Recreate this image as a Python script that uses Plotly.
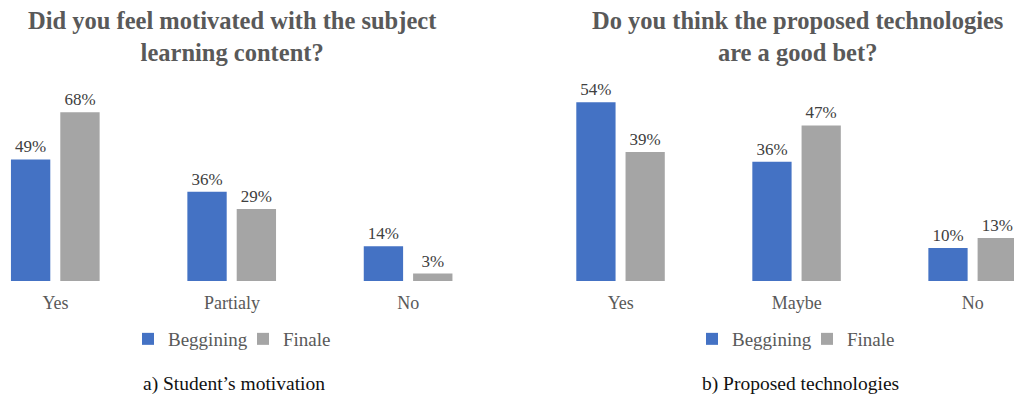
import plotly.graph_objects as go

# ---- data ----
cats_a = ["Yes", "Partialy", "No"]
begin_a = [49, 36, 14]
final_a = [68, 29, 3]

cats_b = ["Yes", "Maybe", "No"]
begin_b = [54, 36, 10]
final_b = [39, 47, 13]

series_names = ["Beggining", "Finale"]
titles = ["Did you feel motivated with the subject<br>learning content?",
          "Do you think the proposed technologies<br>are a good bet?"]
captions = ["a) Student’s motivation", "b) Proposed technologies"]

BLUE = "#4472C4"
GRAY = "#A5A5A5"
TXT = "#595959"
FONT = "Liberation Serif, Times New Roman, serif"

W, H = 1014, 396
BAR_W = 0.223
OFF_B = -0.2525
OFF_F = 0.0272

fig = go.Figure()

def add_pair(cats, b, f, xa, ya, leg):
    for vals, name, col, off in [(b, series_names[0], BLUE, OFF_B),
                                 (f, series_names[1], GRAY, OFF_F)]:
        fig.add_trace(go.Bar(x=cats, y=vals, name=name, marker_color=col,
                             marker_line_width=0,
                             width=BAR_W, offset=off, xaxis=xa, yaxis=ya, legend=leg,
                             text=[f"{v}%" for v in vals], textposition="outside",
                             textfont=dict(family=FONT, size=17, color="#404040"),
                             cliponaxis=False))

add_pair(cats_a, begin_a, final_a, "x", "y", "legend")
add_pair(cats_b, begin_b, final_b, "x2", "y2", "legend2")

y0 = (H - 281) / H
y1 = (H - 70) / H

axis_x = dict(showgrid=False, zeroline=False, showline=False, ticks="outside",
              ticklen=5, tickcolor="rgba(0,0,0,0)",
              tickfont=dict(family=FONT, size=18, color=TXT), fixedrange=True)
axis_y = dict(showgrid=False, zeroline=False, showline=False, showticklabels=False,
              fixedrange=True)

leg_common = dict(orientation="h", xanchor="center", y=(H - 339) / H, yanchor="middle",
                  font=dict(family=FONT, size=19, color=TXT), bgcolor="rgba(0,0,0,0)",
                  entrywidth=70, entrywidthmode="pixels")

fig.update_layout(
    width=W, height=H,
    margin=dict(l=0, r=0, t=0, b=0),
    paper_bgcolor="white", plot_bgcolor="white",
    barmode="group",
    xaxis=dict(axis_x, domain=[0, 0.49], range=[-0.3146, 2.502]),
    yaxis=dict(axis_y, domain=[y0, y1], range=[0, (281 - 70) / 2.48]),
    xaxis2=dict(axis_x, domain=[0.52, 1], range=[-0.531, 2.234]),
    yaxis2=dict(axis_y, domain=[y0, y1], range=[0, (281 - 70) / 3.31], anchor="x2"),
    legend=dict(leg_common, x=243 / W),
    legend2=dict(leg_common, x=807 / W),
    showlegend=True,
)
fig.update_layout(xaxis2_anchor="y2")

for cx, t in zip([232, 797], titles):
    fig.add_annotation(text=f"<b>{t}</b>", x=cx / W, y=(H - 36) / H, xref="paper", yref="paper",
                       showarrow=False, xanchor="center", yanchor="middle",
                       font=dict(family=FONT, size=24.5, color=TXT))
for cx, c in zip([234, 800], captions):
    fig.add_annotation(text=c, x=cx / W, y=(H - 384) / H, xref="paper", yref="paper",
                       showarrow=False, xanchor="center", yanchor="middle",
                       font=dict(family=FONT, size=19.5, color="#111111"))

fig.write_html("out.html", config={"displayModeBar": False},
               post_script="document.body.style.margin='0';document.body.style.overflow='hidden';")
